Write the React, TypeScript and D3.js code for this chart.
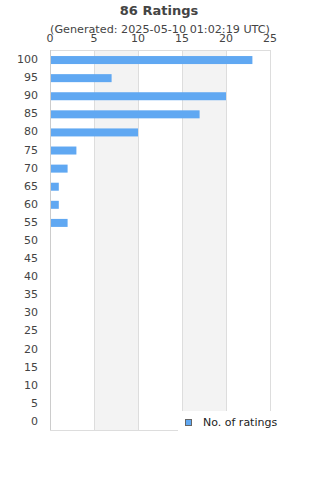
import { useEffect, useRef } from "react"
import * as d3 from "d3"

const categories = ["100", "95", "90", "85", "80", "75", "70", "65", "60", "55", "50", "45", "40", "35", "30", "25", "20", "15", "10", "5", "0"]
const counts = [23, 7, 20, 17, 10, 3, 2, 1, 1, 2, 0, 0, 0, 0, 0, 0, 0, 0, 0, 0, 0]
const xTicks = [0, 5, 10, 15, 20, 25]
const title = "86 Ratings"
const subtitle = "(Generated: 2025-05-10 01:02:19 UTC)"
const seriesName = "No. of ratings"

export default function App() {
  const svgRef = useRef<SVGSVGElement>(null)

  useEffect(() => {
    if (!svgRef.current) return
    const svg = d3.select(svgRef.current)
    svg.selectAll("*").remove()

    const width = 320
    const height = 480
    const margin = { top: 50, right: 50, bottom: 50, left: 50 }
    const font = "DejaVu Sans, Verdana, sans-serif"

    const x = d3.scaleLinear().domain([0, 25]).range([margin.left, width - margin.right])
    const y = d3
      .scaleBand()
      .domain(categories)
      .range([margin.top, height - margin.bottom])
      .paddingInner(0)
      .paddingOuter(0)

    const top = margin.top
    const bottom = height - margin.bottom

    // alternating shaded bands between gridlines
    svg
      .append("g")
      .selectAll("rect")
      .data([5, 15])
      .enter()
      .append("rect")
      .attr("x", (d) => x(d))
      .attr("y", top)
      .attr("width", (d) => x(d + 5) - x(d))
      .attr("height", bottom - top)
      .attr("fill", "#f3f3f3")

    // gridlines
    svg
      .append("g")
      .selectAll("line")
      .data(xTicks.slice(1))
      .enter()
      .append("line")
      .attr("x1", (d) => Math.round(x(d)) + 0.5)
      .attr("x2", (d) => Math.round(x(d)) + 0.5)
      .attr("y1", top)
      .attr("y2", bottom)
      .attr("stroke", "#dddddd")
      .attr("stroke-width", 1)

    // top and bottom borders
    svg
      .append("g")
      .selectAll("line")
      .data([top, bottom])
      .enter()
      .append("line")
      .attr("x1", x(0))
      .attr("x2", x(25))
      .attr("y1", (d) => d + 0.5)
      .attr("y2", (d) => d + 0.5)
      .attr("stroke", "#dddddd")

    // baseline
    svg
      .append("line")
      .attr("x1", Math.round(x(0)) + 0.5)
      .attr("x2", Math.round(x(0)) + 0.5)
      .attr("y1", top)
      .attr("y2", bottom)
      .attr("stroke", "#cccccc")

    // bars
    const barH = 8
    svg
      .append("g")
      .selectAll("rect")
      .data(categories.map((c, i) => ({ c, v: counts[i] })))
      .enter()
      .append("rect")
      .attr("x", x(0) + 1)
      .attr("y", (d) => (y(d.c) as number) + y.bandwidth() / 2 - barH / 2 + 1)
      .attr("width", (d) => Math.max(0, x(d.v) - x(0) - 1))
      .attr("height", barH)
      .attr("fill", "#60a8f2")

    // top axis labels
    svg
      .append("g")
      .selectAll("text")
      .data(xTicks)
      .enter()
      .append("text")
      .attr("x", (d) => x(d))
      .attr("y", 42)
      .attr("text-anchor", "middle")
      .attr("font-family", font)
      .attr("font-size", "11px")
      .attr("fill", "#444444")
      .text((d) => d)

    // y labels
    svg
      .append("g")
      .selectAll("text")
      .data(categories)
      .enter()
      .append("text")
      .attr("x", 38)
      .attr("y", (d) => (y(d) as number) + y.bandwidth() / 2 + 4)
      .attr("text-anchor", "end")
      .attr("font-family", font)
      .attr("font-size", "11px")
      .attr("fill", "#444444")
      .text((d) => d)

    // title
    svg
      .append("text")
      .attr("x", 159)
      .attr("y", 15)
      .attr("text-anchor", "middle")
      .attr("font-family", font)
      .attr("font-size", "13px")
      .attr("font-weight", "bold")
      .attr("fill", "#444444")
      .text(title)

    svg
      .append("text")
      .attr("x", 160)
      .attr("y", 33)
      .attr("text-anchor", "middle")
      .attr("font-family", font)
      .attr("font-size", "11.2px")
      .attr("fill", "#444444")
      .text(subtitle)

    // legend
    svg
      .append("rect")
      .attr("x", 178)
      .attr("y", 411)
      .attr("width", 142)
      .attr("height", 22)
      .attr("fill", "#ffffff")

    svg
      .append("rect")
      .attr("x", 185.5)
      .attr("y", 419.5)
      .attr("width", 6)
      .attr("height", 6)
      .attr("fill", "#60a8f2")
      .attr("stroke", "#666666")
      .attr("stroke-width", 1)

    svg
      .append("text")
      .attr("x", 203)
      .attr("y", 426)
      .attr("font-family", font)
      .attr("font-size", "11px")
      .attr("fill", "#222222")
      .text(seriesName)
  }, [])

  return (
    <svg
      ref={svgRef}
      width={320}
      height={480}
      style={{ position: "absolute", left: 0, top: 0, background: "#ffffff" }}
    />
  )
}
